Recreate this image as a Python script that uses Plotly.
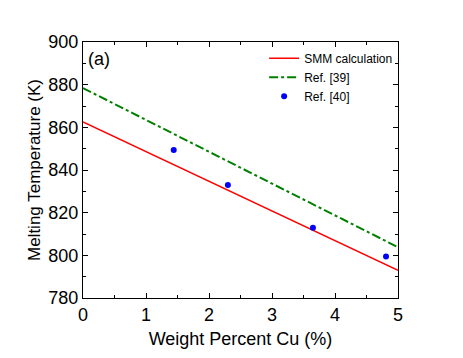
import plotly.graph_objects as go

# SMM calculation line endpoints
smm_x = [0, 5]
smm_y = [862.5, 793.0]

# Ref. [39] line
ref39_x = [0, 5]
ref39_y = [878.4, 803.8]

# Ref. [40] measured points
ref40_x = [1.44, 2.30, 3.65, 4.81]
ref40_y = [849.4, 833.0, 812.9, 799.4]

fig = go.Figure()
fig.add_trace(go.Scatter(x=smm_x, y=smm_y, mode="lines", name="SMM calculation",
                         line=dict(color="red", width=1.4)))
fig.add_trace(go.Scatter(x=ref39_x, y=ref39_y, mode="lines", name="Ref. [39]",
                         line=dict(color="green", width=2, dash="dashdot")))
fig.add_trace(go.Scatter(x=ref40_x, y=ref40_y, mode="markers", name="Ref. [40]",
                         marker=dict(color="blue", size=6)))

fig.add_annotation(x=0.05, y=892, text="(a)", showarrow=False, xanchor="left",
                   font=dict(size=18, color="black"))

axis_common = dict(showline=True, linecolor="black", linewidth=1, mirror="ticks",
                   ticks="inside", ticklen=5, tickcolor="black", showgrid=False,
                   zeroline=False, automargin=False, tickfont=dict(size=18, color="black"))

fig.update_xaxes(range=[0, 5], dtick=1,
                 title=dict(text="Weight Percent Cu (%)", font=dict(size=18, color="black"), standoff=8),
                 minor=dict(dtick=0.5, ticks="inside", ticklen=3, tickcolor="black"),
                 **axis_common)
fig.update_yaxes(range=[780, 900], dtick=20,
                 title=dict(text="Melting Temperature (K)", font=dict(size=17, color="black"), standoff=3),
                 minor=dict(dtick=10, ticks="inside", ticklen=3, tickcolor="black"),
                 **axis_common)

# page body adds an 8px offset, margins compensate for it
fig.update_layout(width=463, height=358, plot_bgcolor="white", paper_bgcolor="white",
                  margin=dict(l=75, r=73, t=34, b=68),
                  font=dict(family="Liberation Sans, Arial, sans-serif", color="black"),
                  legend=dict(x=0.575, y=0.993, xanchor="left", yanchor="top",
                              bgcolor="rgba(0,0,0,0)", font=dict(size=12),
                              tracegroupgap=0, itemwidth=30))

fig.write_html("out.html")
